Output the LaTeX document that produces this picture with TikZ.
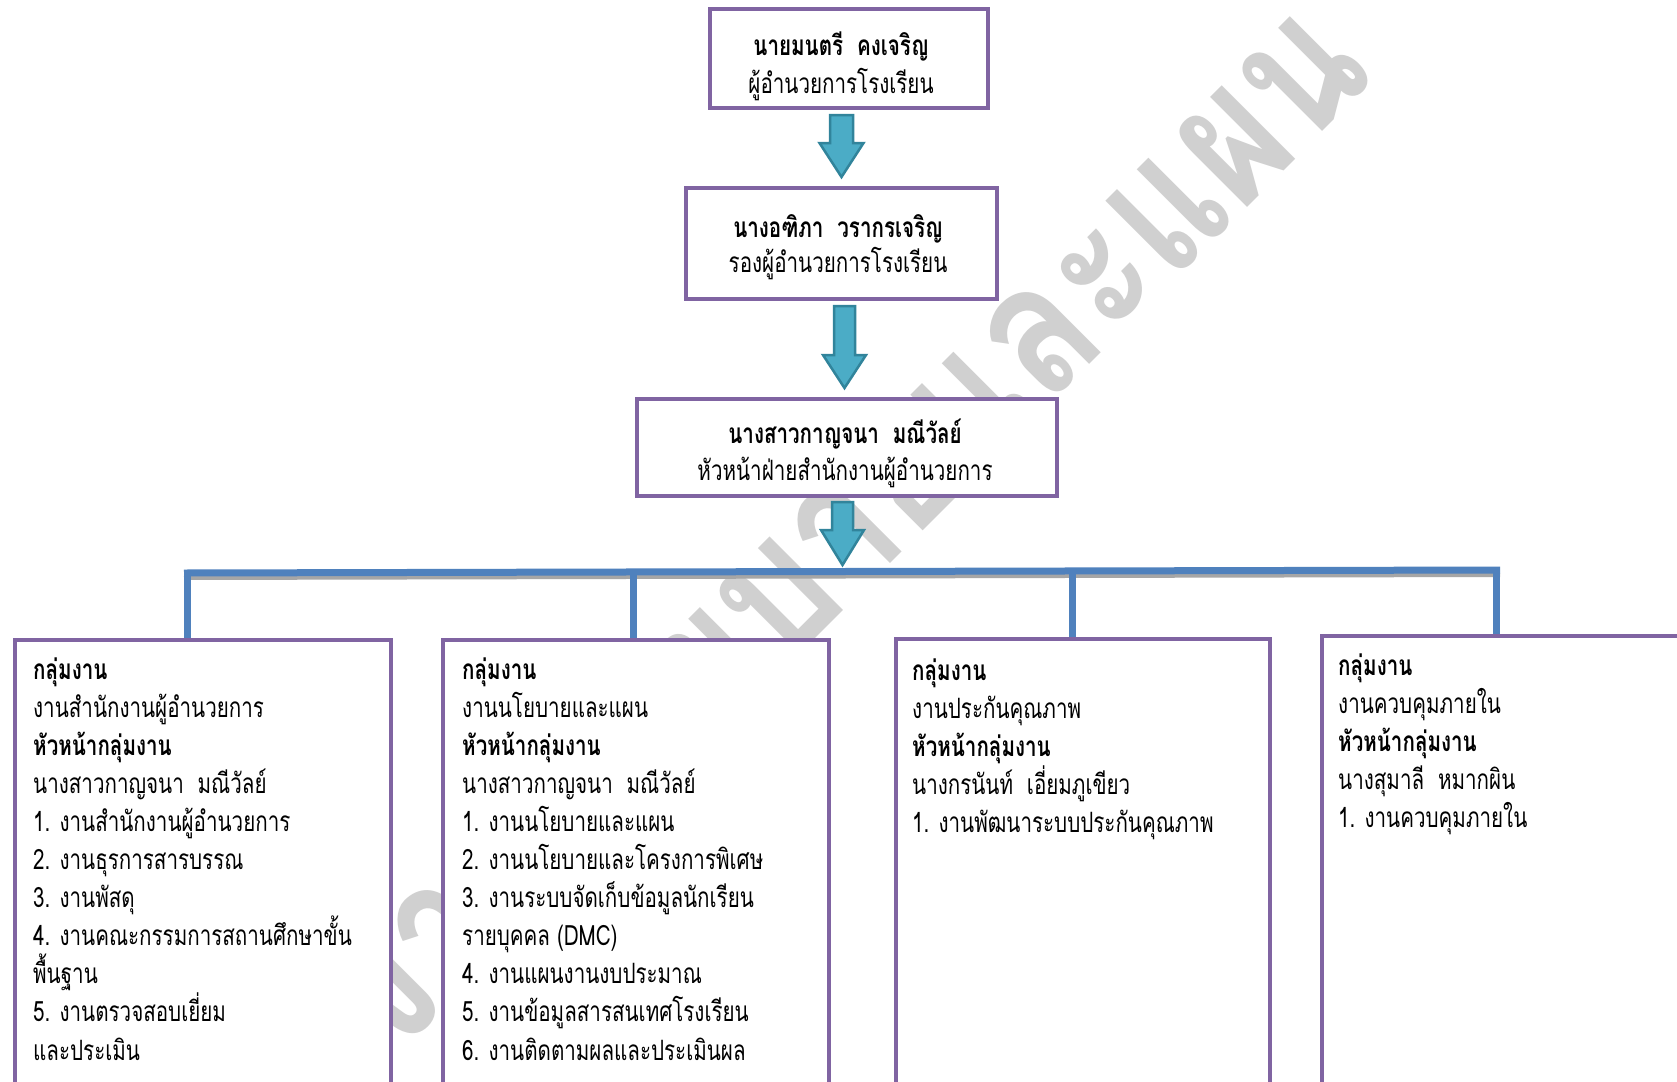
\documentclass[tikz,border=0pt]{standalone}
\usepackage{fontspec}
\setmainfont[Script=Thai, FakeStretch=0.735]{Loma}
\newfontfamily\wmfont[Script=Thai, FakeStretch=0.82]{Loma}
\definecolor{boxpurple}{HTML}{8064A2}
\definecolor{linkblue}{HTML}{4F81BD}
\definecolor{arrfill}{HTML}{4BACC6}
\definecolor{arrdraw}{HTML}{31849B}
\definecolor{wmgray}{HTML}{D0D0D0}
\definecolor{shadowgray}{HTML}{A6A6A6}
\tikzset{
  box/.style={draw=boxpurple, line width=4pt, fill=white, inner sep=0pt, anchor=north west},
  arrowsty/.style={draw=arrdraw, fill=arrfill, line width=2.5pt, line join=miter},
  link/.style={draw=linkblue, line width=7pt},
  headtext/.style={anchor=base, inner sep=0pt, font=\fontsize{28}{28}\selectfont},
  headbold/.style={anchor=base, inner sep=0pt, font=\bfseries\fontsize{28}{28}\selectfont},
  listtext/.style={anchor=base west, inner sep=0pt, font=\fontsize{28}{28}\selectfont},
}
\newcommand\DArrow[6]{%
  \draw[arrowsty] (#1-#2,#4) -- (#1+#2,#4) -- (#1+#2,#5) -- (#1+#3,#5) -- (#1,#6) -- (#1-#3,#5) -- (#1-#2,#5) -- cycle;}
\begin{document}
\begin{tikzpicture}[x=1pt,y=-1pt]
\useasboundingbox (0,0) rectangle (1677,1081);
\clip (0,0) rectangle (1677,1081);
\fill[white] (0,0) rectangle (1677,1081);
% watermark
\node[rotate=45, text=wmgray, inner sep=0pt, font=\wmfont\bfseries\fontsize{187}{187}\selectfont] (wm) at (838,516) {งานนโยบายและแผน};
% top boxes
\node[box, minimum width=278, minimum height=99] (b1) at (708,7) {};
\node[box, minimum width=311, minimum height=111] (b2) at (684,186) {};
\node[box, minimum width=420, minimum height=97] (b3) at (635,397) {};
\node[headbold] (b1a) at (841,56) {นายมนตรี\ \ คงเจริญ};
\node[headtext] (b1b) at (841,93) {ผู้อำนวยการโรงเรียน};
\node[headbold] (b2a) at (838,237) {นางอฑิภา\ \ วรากรเจริญ};
\node[headtext] (b2b) at (838,272) {รองผู้อำนวยการโรงเรียน};
\node[headbold] (b3a) at (845,443) {นางสาวกาญจนา\ \ มณีวัลย์};
\node[headtext] (b3b) at (845,480) {หัวหน้าฝ่ายสำนักงานผู้อำนวยการ};
% block arrows
\DArrow{841.5}{11.5}{22}{115}{143}{177}
\DArrow{844.5}{10.5}{21.5}{306}{355}{388}
\DArrow{842.5}{10.5}{21.5}{502}{530}{565}
% lower boxes
\node[box, minimum width=376, minimum height=600] (gA) at (13,638) {};
\node[box, minimum width=386, minimum height=600] (gB) at (441,638) {};
\node[box, minimum width=374, minimum height=600] (gC) at (894,637) {};
\node[box, minimum width=500, minimum height=600] (gD) at (1320,634) {};
% connectors
\coordinate (barL) at (184,573);
\coordinate (barR) at (1500,570);
\coordinate (vA) at (187.5,573);
\coordinate (vB) at (633,572);
\coordinate (vC) at (1072,571);
\coordinate (vD) at (1496,570);
\draw[shadowgray, line width=4pt] ([yshift=-5pt]barL) -- ([yshift=-5pt]barR);
\draw[link] (barL) -- (barR);
\draw[link] (vA) -- (vA |- gA.north);
\draw[link] (vB) -- (vB |- gB.north);
\draw[link] (vC) -- (vC |- gC.north);
\draw[link] (vD) -- (vD |- gD.north);
% list texts
\foreach \t [count=\i from 0] in {{\bfseries กลุ่มงาน}, งานสำนักงานผู้อำนวยการ, {\bfseries หัวหน้ากลุ่มงาน}, นางสาวกาญจนา\ \ มณีวัลย์, 1. งานสำนักงานผู้อำนวยการ, 2. งานธุรการสารบรรณ, 3. งานพัสดุ, 4. งานคณะกรรมการสถานศึกษาขั้น, พื้นฐาน, 5. งานตรวจสอบเยี่ยม, และประเมิน}
  \node[listtext] (A\i) at (33,679+38.1*\i) {\t};
\foreach \t [count=\i from 0] in {{\bfseries กลุ่มงาน}, งานนโยบายและแผน, {\bfseries หัวหน้ากลุ่มงาน}, นางสาวกาญจนา\ \ มณีวัลย์, 1. งานนโยบายและแผน, 2. งานนโยบายและโครงการพิเศษ, 3. งานระบบจัดเก็บข้อมูลนักเรียน, รายบุคคล (DMC), 4. งานแผนงานงบประมาณ, 5. งานข้อมูลสารสนเทศโรงเรียน, 6. งานติดตามผลและประเมินผล}
  \node[listtext] (B\i) at (462,679+38.1*\i) {\t};
\foreach \t [count=\i from 0] in {{\bfseries กลุ่มงาน}, งานประกันคุณภาพ, {\bfseries หัวหน้ากลุ่มงาน}, นางกรนันท์\ \ เอี่ยมภูเขียว, 1. งานพัฒนาระบบประกันคุณภาพ}
  \node[listtext] (C\i) at (912,680+38.1*\i) {\t};
\foreach \t [count=\i from 0] in {{\bfseries กลุ่มงาน}, งานควบคุมภายใน, {\bfseries หัวหน้ากลุ่มงาน}, นางสุมาลี\ \ หมากผิน, 1. งานควบคุมภายใน}
  \node[listtext] (D\i) at (1338,675+38.1*\i) {\t};
\end{tikzpicture}
\end{document}
